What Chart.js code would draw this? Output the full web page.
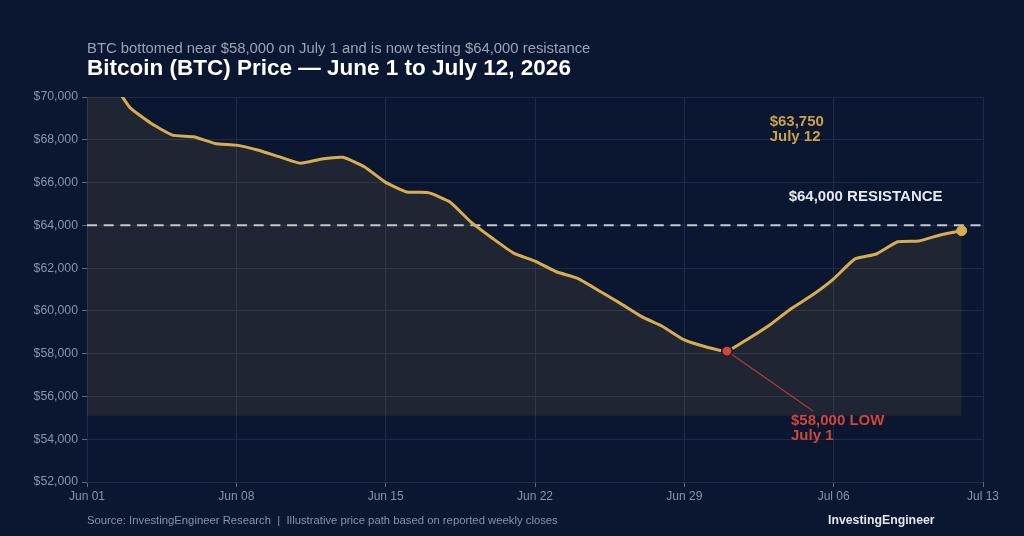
<!DOCTYPE html>
<html>
<head>
<meta charset="utf-8">
<script src="https://cdn.jsdelivr.net/npm/chart.js@4.4.1/dist/chart.umd.min.js"></script>
<style>
  html, body { margin: 0; padding: 0; background: #0b1630; }
  #wrap { width: 1024px; height: 536px; position: relative; }
  canvas { display: block; }
</style>
</head>
<body>
<div id="wrap"><canvas id="c" width="1024" height="536"></canvas></div>
<script>
// ---- Data ----
const days = [0,1,2,3,4,5,6,7,8,9,10,11,12,13,14,15,16,17,18,19,20,21,22,23,24,25,26,27,28,29,30,31,32,33,34,35,36,37,38,39,40,41]; // days since Jun 01
const prices = [72000,71000,69520,68770,68220,68140,67830,67750,67520,67210,66900,67100,67180,66740,66010,65560,65530,65100,64150,63400,62700,62330,61830,61520,60940,60350,59730,59260,58640,58320,58120,58700,59340,60100,60740,61500,62430,62660,63230,63270,63550,63750];
const xTickValues = [0,7,14,21,28,35,42];
const xTickLabels = ["Jun 01","Jun 08","Jun 15","Jun 22","Jun 29","Jul 06","Jul 13"];
const resistanceLevel = 64000;
const resistanceDays = [0,42];
const lowIndex = 30;   // July 1
const lastIndex = 41;  // July 12
const fillBase = 55100;

const FONT = "'Liberation Sans', Arial, Helvetica, sans-serif";
const BG = '#0b1630';
const GOLD = '#d8ad4e';
const RED = '#d0473a';

const pricePoints = days.map((d,i)=>({x:d, y:prices[i]}));
const resPoints = resistanceDays.map(d=>({x:d, y:resistanceLevel}));

const radii = prices.map((_,i)=> (i===lowIndex||i===lastIndex) ? 5 : 0);
const pColors = prices.map((_,i)=> i===lowIndex ? RED : GOLD);
const pBorders = prices.map((_,i)=> i===lowIndex ? '#1a1a2a' : GOLD);

const overlay = {
  id: 'overlay',
  beforeDraw(chart) {
    const ctx = chart.ctx;
    ctx.save();
    ctx.fillStyle = BG;
    ctx.fillRect(0,0,chart.width,chart.height);
    ctx.restore();
  },
  afterDatasetsDraw(chart) {
    const ctx = chart.ctx;
    const xs = chart.scales.x, ys = chart.scales.y;
    ctx.save();
    // connector line for low
    const lx = xs.getPixelForValue(days[lowIndex]);
    const ly = ys.getPixelForValue(prices[lowIndex]);
    ctx.strokeStyle = 'rgba(200,65,50,0.85)';
    ctx.lineWidth = 1.2;
    ctx.beginPath();
    ctx.moveTo(lx, ly);
    ctx.lineTo(lx + 86, ly + 60);
    ctx.stroke();
    // redraw low marker on top
    ctx.fillStyle = RED;
    ctx.strokeStyle = '#1a1a2a';
    ctx.lineWidth = 1.5;
    ctx.beginPath(); ctx.arc(lx, ly, 5.2, 0, Math.PI*2); ctx.fill(); ctx.stroke();

    ctx.textBaseline = 'middle';
    ctx.textAlign = 'left';
    // low label
    ctx.fillStyle = RED;
    ctx.font = 'bold 15px ' + FONT;
    ctx.fillText('$58,000 LOW', lx + 64, ly + 70);
    ctx.fillText('July 1', lx + 64, ly + 85);

    // last label
    const ex = xs.getPixelForValue(days[lastIndex]);
    const ey = ys.getPixelForValue(prices[lastIndex]);
    ctx.fillStyle = '#c9a24a';
    ctx.fillText('$63,750', ex - 192, ey - 108.5);
    ctx.fillText('July 12', ex - 192, ey - 94);

    // resistance label
    const ry = ys.getPixelForValue(resistanceLevel);
    ctx.fillStyle = '#e6e8ee';
    ctx.fillText('$64,000 RESISTANCE', ex - 173, ry - 28);

    // Titles
    ctx.fillStyle = '#9aa3b5';
    ctx.font = '14.85px ' + FONT;
    ctx.fillText('BTC bottomed near $58,000 on July 1 and is now testing $64,000 resistance', 87, 49);
    ctx.fillStyle = '#ffffff';
    ctx.font = 'bold 22.5px ' + FONT;
    ctx.fillText('Bitcoin (BTC) Price \u2014 June 1 to July 12, 2026', 87, 68.5);

    // Footer
    ctx.fillStyle = '#8a93a6';
    ctx.font = '11.3px ' + FONT;
    ctx.fillText('Source: InvestingEngineer Research  |  Illustrative price path based on reported weekly closes', 87, 521);
    ctx.fillStyle = '#e4e6ec';
    ctx.font = 'bold 12.3px ' + FONT;
    ctx.fillText('InvestingEngineer', 828, 521);
    ctx.restore();
  }
};

new Chart(document.getElementById('c'), {
  type: 'line',
  data: {
    datasets: [
      {
        label: 'BTC',
        data: pricePoints,
        borderColor: GOLD,
        borderWidth: 3,
        tension: 0.15,
        fill: { value: fillBase },
        backgroundColor: 'rgba(214,172,82,0.10)',
        pointRadius: radii,
        pointHoverRadius: radii,
        pointBackgroundColor: pColors,
        pointBorderColor: pBorders,
        pointBorderWidth: 1,
        order: 1
      },
      {
        label: 'Resistance',
        data: resPoints,
        borderColor: '#c4c8d2',
        borderWidth: 2,
        borderDash: [10, 6.67],
        pointRadius: 0,
        fill: false,
        order: 2
      }
    ]
  },
  options: {
    responsive: false,
    animation: false,
    events: [],
    layout: { padding: { left: 0, top: 97, right: 41, bottom: 0 } },
    plugins: { legend: { display: false }, tooltip: { enabled: false }, title: { display: false } },
    scales: {
      x: {
        type: 'linear',
        min: 0, max: 42,
        afterBuildTicks(scale) { scale.ticks = xTickValues.map(v=>({value:v})); },
        afterFit(scale) { scale.height = 54; },
        ticks: {
          color: '#8a93a8',
          font: { family: FONT, size: 12 },
          padding: 2,
          maxRotation: 0,
          autoSkip: false,
          callback: (v) => { const i = xTickValues.indexOf(v); return i >= 0 ? xTickLabels[i] : ''; }
        },
        grid: { color: '#1c2b49', lineWidth: 1, tickLength: 5, tickColor: '#5c6782' },
        border: { display: false }
      },
      y: {
        min: 52000, max: 70000,
        afterFit(scale) { scale.width = 87; },
        ticks: {
          stepSize: 2000,
          color: '#8a93a8',
          font: { family: FONT, size: 12.3 },
          padding: 4,
          callback: (v) => '$' + Number(v).toLocaleString('en-US')
        },
        grid: { color: '#1c2b49', lineWidth: 1, tickLength: 5, tickColor: '#5c6782' },
        border: { display: false }
      }
    }
  },
  plugins: [overlay]
});
</script>
</body>
</html>
